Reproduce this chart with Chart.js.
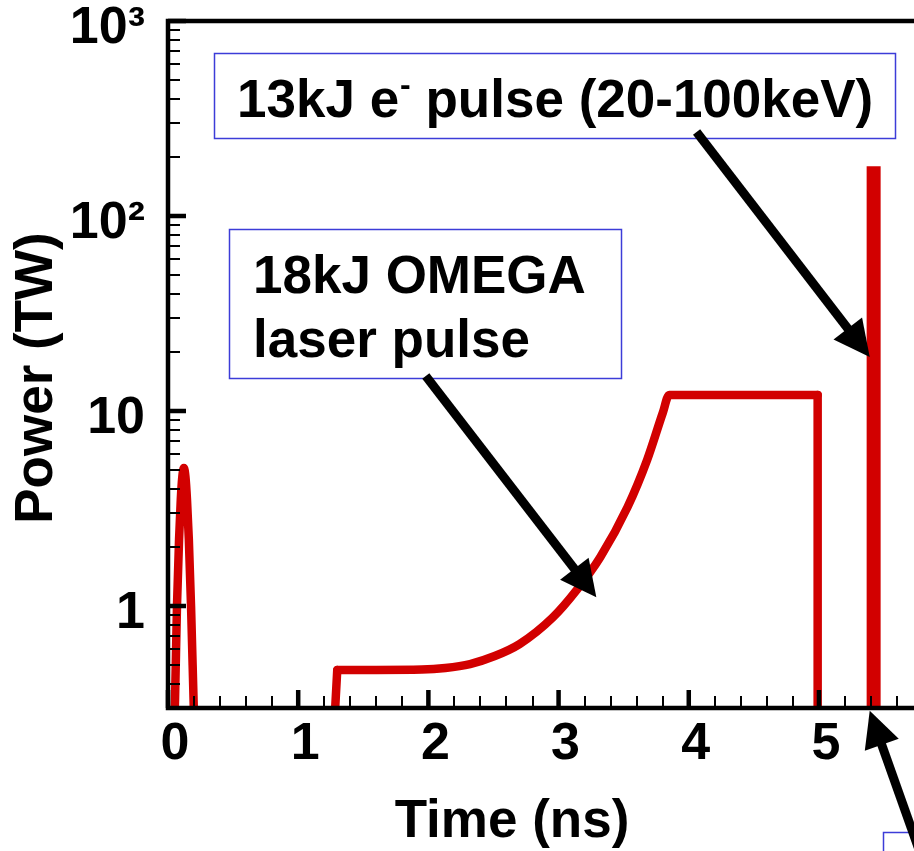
<!DOCTYPE html>
<html>
<head>
<meta charset="utf-8">
<script src="https://cdn.jsdelivr.net/npm/chart.js@4.4.1/dist/chart.umd.min.js"></script>
<style>
  html, body { margin: 0; padding: 0; background: #fff; overflow: hidden; }
  canvas { display: block; }
</style>
</head>
<body>
<canvas id="pulseChart" width="914" height="851"></canvas>
<script>
const FONT = '"Liberation Sans", Arial, sans-serif';
const RED = '#d20000';
const BLUE = '#3c3cd8';

// axis ticks
const xTicks = [0, 1, 2, 3, 4, 5];
const xMinorTicks = [0.2, 0.4, 0.6, 0.8, 1.2, 1.4, 1.6, 1.8, 2.2, 2.4, 2.6, 2.8,
  3.2, 3.4, 3.6, 3.8, 4.2, 4.4, 4.6, 4.8, 5.2, 5.4, 5.6];
const yTicks = [1, 10, 100, 1000];
const yTickLabels = ['1', '10', '10²', '10³'];
const yMinorTicks = [0.4, 0.5, 0.6, 0.7, 0.8, 0.9, 2, 3, 4, 5, 6, 7, 8, 9,
  20, 30, 40, 50, 60, 70, 80, 90, 200, 300, 400, 500, 600, 700, 800, 900];

// first short pulse near t = 0 (ns, TW)
const spikeT = [0.035, 0.054, 0.069, 0.085, 0.098, 0.110, 0.122, 0.134, 0.146, 0.160, 0.177, 0.198, 0.215];
const spikeP = [0.12, 0.33, 1.0, 2.2, 3.5, 4.6, 5.1, 4.6, 3.5, 2.2, 1.0, 0.3, 0.12];

// 18kJ OMEGA laser pulse: rising edge, foot + ramp + flat top, falling edge
const laserRiseT = [1.27, 1.30];
const laserRiseP = [0.2, 0.47];
const laserT = [1.30, 1.60, 1.95, 2.13, 2.32, 2.51, 2.70, 2.955, 3.14, 3.32, 3.53, 3.68, 3.80, 3.85, 4.40, 4.99];
const laserP = [0.47, 0.47, 0.472, 0.481, 0.504, 0.554, 0.638, 0.873, 1.21, 1.78, 3.22, 5.61, 9.77, 12.1, 12.1, 12.1];
const laserFallT = [4.99, 4.99];
const laserFallP = [12.1, 0.2];

// 13kJ electron pulse
const beamT = [5.42, 5.42];
const beamP = [0.2, 180];

// callout arrows in data units: [tailT, tailP, tipT, tipP]
const arrowOmega = [1.98, 15.1, 3.29, 1.11];
const arrowBeam = [4.06, 270, 5.39, 18.9];
const arrowLower = [5.81, 0.047, 5.39, 0.29];

function toPoints(xs, ys) {
  return xs.map((x, i) => ({ x, y: ys[i] }));
}

function redLine(xs, ys, extra) {
  return Object.assign({
    data: toPoints(xs, ys),
    borderColor: RED,
    borderWidth: 8.5,
    pointRadius: 0,
    borderJoinStyle: 'round',
    borderCapStyle: 'round',
    clip: 0
  }, extra || {});
}

function drawArrow(ctx, x0, y0, x1, y1) {
  const ang = Math.atan2(y1 - y0, x1 - x0);
  const c = Math.cos(ang), s = Math.sin(ang);
  const hl = 36, hw = 18;
  const bx = x1 - hl * c, by = y1 - hl * s;
  ctx.lineWidth = 9;
  ctx.lineCap = 'butt';
  ctx.beginPath();
  ctx.moveTo(x0, y0);
  ctx.lineTo(bx + 6 * c, by + 6 * s);
  ctx.stroke();
  ctx.beginPath();
  ctx.moveTo(x1, y1);
  ctx.lineTo(bx - hw * s, by + hw * c);
  ctx.lineTo(bx + hw * s, by - hw * c);
  ctx.closePath();
  ctx.fill();
}

const decorations = {
  id: 'decorations',
  afterDraw(chart) {
    const { ctx, chartArea: a, scales: { x, y } } = chart;
    ctx.save();
    ctx.strokeStyle = '#000';
    ctx.fillStyle = '#000';

    // inward ticks
    ctx.lineCap = 'butt';
    ctx.lineWidth = 2;
    ctx.beginPath();
    yMinorTicks.forEach((v) => {
      const py = Math.round(y.getPixelForValue(v));
      ctx.moveTo(a.left, py); ctx.lineTo(a.left + 12, py);
    });
    xMinorTicks.forEach((v) => {
      const px = Math.round(x.getPixelForValue(v));
      ctx.moveTo(px, a.bottom); ctx.lineTo(px, a.bottom - 12);
    });
    ctx.stroke();
    ctx.lineWidth = 4.5;
    ctx.beginPath();
    yTicks.forEach((v) => {
      const py = y.getPixelForValue(v);
      ctx.moveTo(a.left, py); ctx.lineTo(a.left + 18, py);
    });
    xTicks.forEach((v) => {
      const px = x.getPixelForValue(v);
      ctx.moveTo(px, a.bottom); ctx.lineTo(px, a.bottom - 18);
    });
    ctx.stroke();

    // frame
    ctx.lineWidth = 4.5;
    ctx.lineCap = 'square';
    ctx.beginPath();
    ctx.moveTo(a.right + 10, a.top);
    ctx.lineTo(a.left, a.top);
    ctx.lineTo(a.left, a.bottom);
    ctx.lineTo(a.right + 10, a.bottom);
    ctx.stroke();

    // axis titles
    ctx.font = 'bold 53px ' + FONT;
    ctx.textAlign = 'center';
    ctx.textBaseline = 'alphabetic';
    ctx.fillText('Time (ns)', 512, 837);
    ctx.save();
    ctx.translate(52, 378);
    ctx.rotate(-Math.PI / 2);
    ctx.fillText('Power (TW)', 0, 0);
    ctx.restore();

    // callout boxes
    ctx.strokeStyle = BLUE;
    ctx.lineWidth = 1.5;
    ctx.fillStyle = '#fff';
    [[214.5, 53.5, 681, 85], [229.5, 229.5, 392, 149], [883.5, 832.5, 120, 100]].forEach(([bx, by, bw, bh]) => {
      ctx.fillRect(bx, by, bw, bh);
      ctx.strokeRect(bx, by, bw, bh);
    });

    ctx.fillStyle = '#000';
    ctx.textAlign = 'left';
    ctx.font = 'bold 53px ' + FONT;
    let tx = 237;
    ctx.fillText('13kJ e', tx, 117);
    tx += ctx.measureText('13kJ e').width + 1;
    ctx.font = 'bold 32px ' + FONT;
    ctx.fillText('-', tx, 95);
    tx += ctx.measureText('-').width;
    ctx.font = 'bold 53px ' + FONT;
    ctx.fillText(' pulse (20-100keV)', tx, 117);

    ctx.fillText('18kJ OMEGA', 253, 293);
    ctx.fillText('laser pulse', 253, 357);

    // arrows
    ctx.strokeStyle = '#000';
    ctx.fillStyle = '#000';
    [arrowOmega, arrowBeam, arrowLower].forEach(([t0, p0, t1, p1]) => {
      drawArrow(ctx, x.getPixelForValue(t0), y.getPixelForValue(p0),
        x.getPixelForValue(t1), y.getPixelForValue(p1));
    });
    ctx.restore();
  }
};

const tickFont = { family: FONT, size: 52, weight: 'bold' };

new Chart(document.getElementById('pulseChart'), {
  type: 'line',
  data: {
    datasets: [
      redLine(spikeT, spikeP, { cubicInterpolationMode: 'monotone', borderCapStyle: 'butt' }),
      redLine(laserRiseT, laserRiseP),
      redLine(laserT, laserP, { cubicInterpolationMode: 'monotone' }),
      redLine(laserFallT, laserFallP),
      redLine(beamT, beamP, { borderWidth: 14, borderCapStyle: 'butt' })
    ]
  },
  options: {
    responsive: false,
    animation: false,
    events: [],
    layout: { padding: { top: 21, right: 0, bottom: 0, left: 0 } },
    plugins: { legend: { display: false }, tooltip: { enabled: false } },
    scales: {
      x: {
        type: 'linear',
        min: 0,
        max: 5.73,
        grid: { display: false, drawTicks: false },
        border: { display: false },
        afterBuildTicks: (scale) => { scale.ticks = xTicks.map((v) => ({ value: v })); },
        afterFit: (scale) => { scale.height = 143; scale.paddingLeft = 0; scale.paddingRight = 0; },
        ticks: {
          color: '#000',
          font: tickFont,
          padding: 5,
          labelOffset: 7,
          maxRotation: 0,
          autoSkip: false,
          callback: (v) => String(v)
        }
      },
      y: {
        type: 'logarithmic',
        min: 0.3,
        max: 1000,
        grid: { display: false, drawTicks: false },
        border: { display: false },
        afterBuildTicks: (scale) => { scale.ticks = yTicks.map((v) => ({ value: v })); },
        afterFit: (scale) => { scale.width = 168; scale.paddingTop = 0; scale.paddingBottom = 0; },
        ticks: {
          color: '#000',
          font: tickFont,
          padding: 23,
          labelOffset: 8,
          autoSkip: false,
          callback: (v) => {
            const i = yTicks.indexOf(v);
            return i >= 0 ? yTickLabels[i] : '';
          }
        }
      }
    }
  },
  plugins: [decorations]
});
</script>
</body>
</html>
